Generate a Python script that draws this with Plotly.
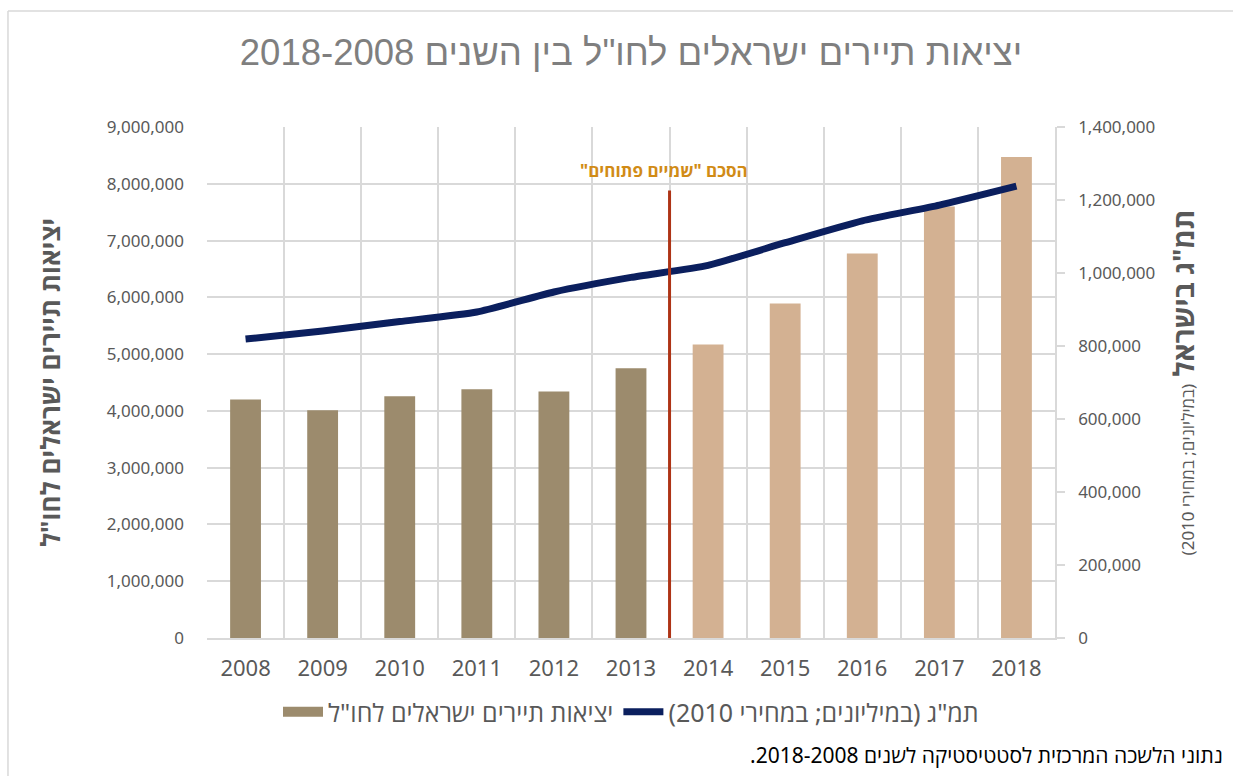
import plotly.graph_objects as go

RLM = "\u200f"

years = ["2008", "2009", "2010", "2011", "2012", "2013", "2014", "2015", "2016", "2017", "2018"]
tourists = [4200000, 4010000, 4260000, 4380000, 4340000, 4750000, 5170000, 5890000, 6770000, 7600000, 8470000]
gdp = [819000, 841000, 867000, 893000, 948000, 988000, 1021000, 1083000, 1143000, 1186000, 1238000]
bar_colors = ["#9C8B6D"] * 6 + ["#D3B192"] * 5

left_ticks = [0, 1000000, 2000000, 3000000, 4000000, 5000000, 6000000, 7000000, 8000000, 9000000]
right_ticks = [0, 200000, 400000, 600000, 800000, 1000000, 1200000, 1400000]

agreement_pos = 5.5          # between 2013 and 2014
agreement_top = 7880000
agreement_label_y = 8230000

title_text = "יציאות תיירים ישראלים לחו\"ל בין השנים 2018-2008"
bar_name = "יציאות תיירים ישראלים לחו\"ל"
line_name = "תמ\"ג (במיליונים; במחירי 2010)"
left_title = "יציאות תיירים ישראלים לחו\"ל"
right_title_bold = "תמ\"ג בישראל"
right_title_small = "(במיליונים; במחירי 2010)"
agreement_text = "הסכם \"שמיים פתוחים\""
source_text = "נתוני הלשכה המרכזית לסטטיסטיקה לשנים 2018-2008."

def rtl(s):
    return RLM + s + RLM

FONT = "Noto Sans, Open Sans, DejaVu Sans, sans-serif"
GRAY = "#595959"
GRID = "#D9D9D9"
BAR_DARK = bar_colors[0]

fig = go.Figure()
fig.add_trace(go.Bar(
    x=years, y=tourists, name=rtl(bar_name),
    marker=dict(color=bar_colors, line=dict(width=0)),
    width=0.4, yaxis="y", showlegend=False,
))
# legend entry for the bars (wide swatch like the original)
fig.add_trace(go.Scatter(
    x=[None], y=[None], name=rtl(bar_name), mode="lines",
    line=dict(color=BAR_DARK, width=13), yaxis="y",
))
fig.add_trace(go.Scatter(
    x=years, y=gdp, name=rtl(line_name), mode="lines",
    line=dict(color="#0B1F5E", width=7, shape="spline", smoothing=0.5),
    yaxis="y2",
))

fig.add_shape(type="line", xref="x", yref="y", x0=agreement_pos, x1=agreement_pos,
              y0=0, y1=agreement_top, line=dict(color="#AE3416", width=3))
fig.add_annotation(xref="x", yref="y", x=agreement_pos - 0.07, y=agreement_label_y,
                   text="<b>" + rtl(agreement_text) + "</b>", showarrow=False,
                   font=dict(family=FONT, size=17, color="#D18B16"))

# chart frame (top and left edges)
fig.add_shape(type="line", xref="paper", yref="paper", x0=-0.2347, x1=1.21, y0=1.227, y1=1.227,
              line=dict(color=GRID, width=1.5))
fig.add_shape(type="line", xref="paper", yref="paper", x0=-0.2347, x1=-0.2347, y0=1.227, y1=-0.3,
              line=dict(color=GRID, width=1.5))

fig.add_annotation(xref="paper", yref="paper", x=1.2005, y=-0.229, xanchor="right", yanchor="middle",
                   text=rtl(source_text), showarrow=False,
                   font=dict(family=FONT, size=21, color="#000000"))

fig.update_layout(
    width=1233, height=776,
    margin=dict(l=207, r=178, t=127, b=138, autoexpand=False),
    paper_bgcolor="white", plot_bgcolor="white",
    title=dict(text=rtl(title_text), x=0.5, xref="paper", xanchor="center", y=0.933, yanchor="middle",
               font=dict(family="Liberation Sans, Arial, sans-serif", size=36.5, color="#7F7F7F")),
    showlegend=True,
    legend=dict(orientation="h", x=0.5, xanchor="center", y=-0.145, yanchor="middle",
                font=dict(family=FONT, size=25, color=GRAY), itemwidth=40, traceorder="normal"),
    xaxis=dict(type="category", tickson="boundaries", showgrid=True, gridcolor=GRID, gridwidth=1.5,
               showline=True, linecolor=GRID, linewidth=1.5, ticks="", automargin=False,
               ticklabelstandoff=10,
               tickfont=dict(family=FONT, size=22, color=GRAY)),
    yaxis=dict(range=[0, 9000000], tickvals=left_ticks, tickformat=",d", showgrid=True, gridcolor=GRID,
               gridwidth=1.5, zeroline=False, ticks="", automargin=False, ticklabelstandoff=22,
               tickfont=dict(family=FONT, size=17, color=GRAY),
               title=dict(text="<b>" + rtl(left_title) + "</b>", standoff=38,
                          font=dict(family=FONT, size=26, color=GRAY))),
    yaxis2=dict(range=[0, 1400000], tickvals=right_ticks, tickformat=",d", overlaying="y", side="right",
                showgrid=False, zeroline=False, showline=True, linecolor=GRID, linewidth=1.5,
                ticks="outside", ticklen=8, tickcolor=GRID, tickwidth=1.5, automargin=False,
                ticklabelstandoff=10,
                tickfont=dict(family=FONT, size=17, color=GRAY),
                title=dict(text=RLM + "<b>" + right_title_bold + "</b> <span style='font-size:17px'>" + right_title_small + "</span>" + RLM,
                           standoff=20, font=dict(family=FONT, size=28, color=GRAY))),
)

fig.write_html("out.html", config={"displayModeBar": False},
               post_script="document.body.style.margin='0';")
